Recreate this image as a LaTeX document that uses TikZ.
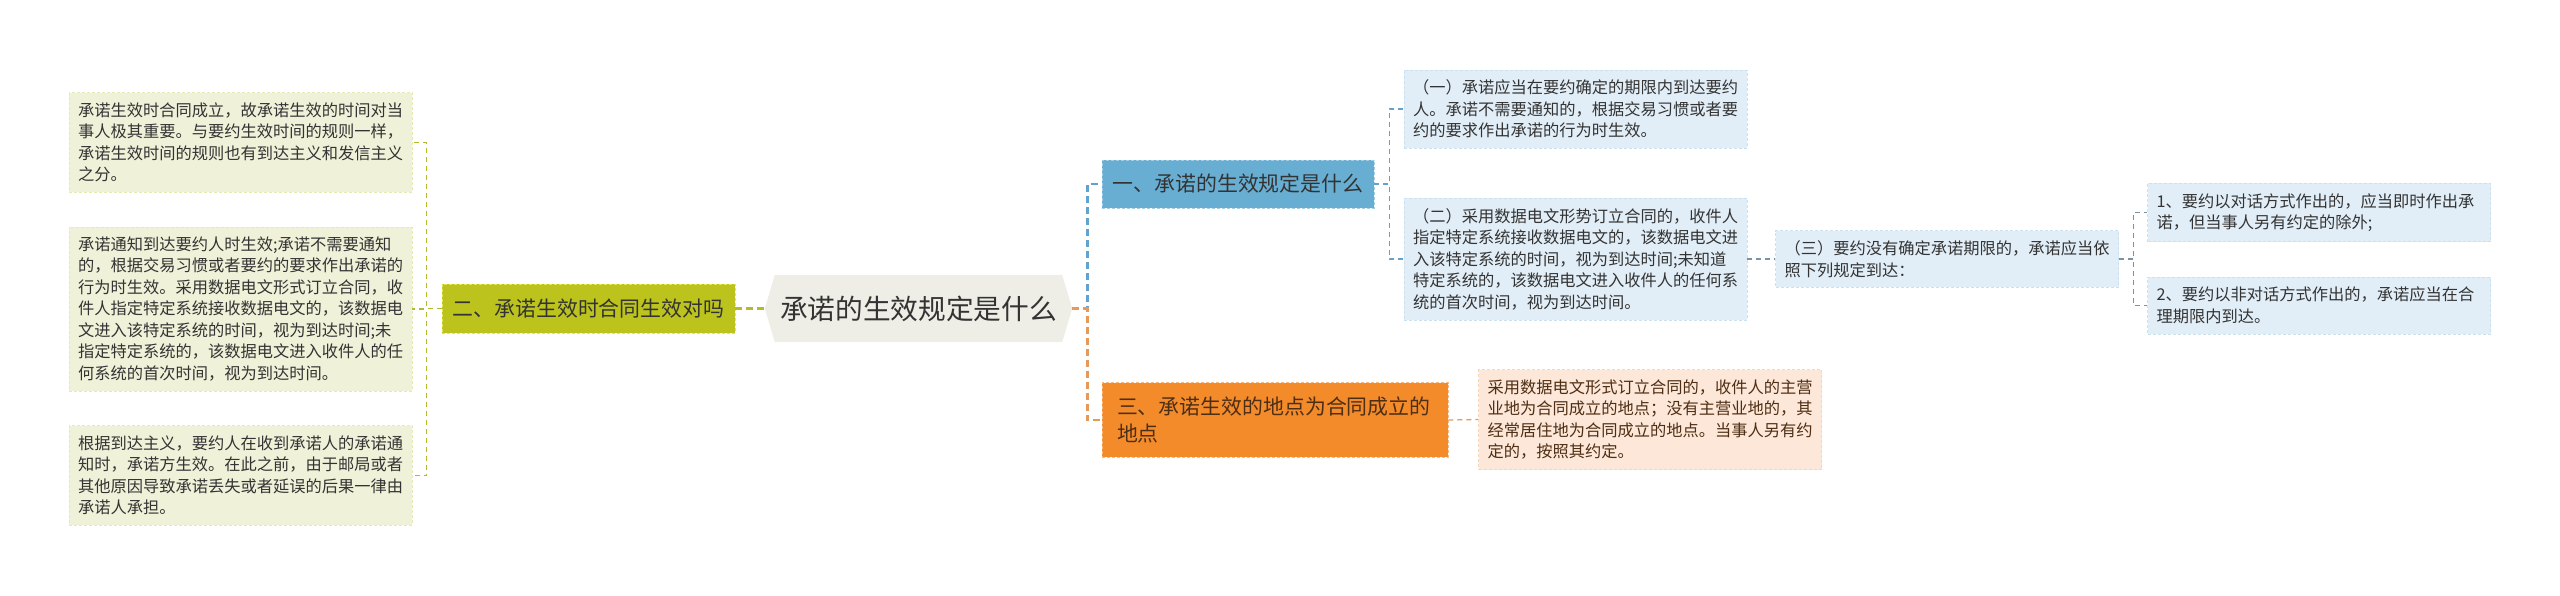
\documentclass[tikz,border=0pt]{standalone}
\usepackage{fontspec}
\setmainfont{Noto Sans CJK SC}
\usepackage{tikz}
\usetikzlibrary{backgrounds}
\definecolor{rootbg}{HTML}{EEEEE6}
\definecolor{grnmain}{HTML}{BCC31C}
\definecolor{grnleaf}{HTML}{EFF2D8}
\definecolor{grnline}{HTML}{B3BA2C}
\definecolor{blumain}{HTML}{68AED3}
\definecolor{bluleaf}{HTML}{E2EEF7}
\definecolor{bluline}{HTML}{62A2CE}
\definecolor{bluetwig}{HTML}{7893A8}
\definecolor{ormain}{HTML}{F38B2B}
\definecolor{orleaf}{HTML}{FCE7D8}
\definecolor{orline}{HTML}{E39A5A}
\definecolor{txtdark}{HTML}{333333}
\definecolor{txtbrown}{HTML}{4E2E14}
\tikzset{
  rootbox/.style={rectangle, inner sep=0pt, minimum width=287pt,
    minimum height=67pt, font=\fontsize{27.7}{30}\selectfont, text=txtdark},
  mainbox/.style={rectangle, inner sep=0pt, draw, line width=0.8pt,
    dash pattern=on 3pt off 2pt, font=\fontsize{20.9}{27.5}\selectfont},
  leaf/.style={rectangle, text width=325pt, inner xsep=9pt, inner ysep=10pt,
    align=left, draw, line width=0.6pt, dash pattern=on 3pt off 2pt,
    font=\fontsize{16.25}{21.5}\selectfont},
  trunk/.style={line width=2.6pt, dash pattern=on 7pt off 4pt},
  twig/.style={line width=1.3pt, dash pattern=on 5pt off 4pt}
}

\begin{document}
\begin{tikzpicture}[x=1pt, y=-1pt]
  \useasboundingbox (0,0) rectangle (2560,595);
  \node[rootbox] (root) at (918.5,308.5) {承诺的生效规定是什么};
  \coordinate (rootL) at ([xshift=-10pt]root.west);
  \coordinate (rootR) at ([xshift=10pt]root.east);
  \begin{scope}[on background layer]
    \fill[rootbg] (root.north west) -- (root.north east) -- (rootR)
      -- (root.south east) -- (root.south west) -- (rootL) -- cycle;
  \end{scope}
  % main branches
  \node[mainbox, fill=grnmain, draw=grnmain!60!yellow!70!white, text=txtdark,
    minimum width=293pt, minimum height=49pt] (n2) at (588.5,308.5)
    {二、承诺生效时合同生效对吗};
  \node[mainbox, fill=blumain, draw=blumain!60!white, text=txtdark,
    minimum width=272pt, minimum height=48pt] (n1) at (1238,184)
    {一、承诺的生效规定是什么};
  \node[mainbox, fill=ormain, draw=ormain!60!white, text=txtbrown,
    text width=316pt, inner xsep=15pt, inner ysep=14pt, align=left] (n3)
    at (1275,420) {三、承诺生效的地点为合同成立的\\地点};
  % left leaves
  \node[leaf, fill=grnleaf, draw=grnleaf!80!grnmain, text=txtdark] (la)
    at (240.5,142.5) {承诺生效时合同成立，故承诺生效的时间对当\\
    事人极其重要。与要约生效时间的规则一样，\\
    承诺生效时间的规则也有到达主义和发信主义\\
    之分。};
  \node[leaf, fill=grnleaf, draw=grnleaf!80!grnmain, text=txtdark] (lb)
    at (240.5,309) {承诺通知到达要约人时生效;承诺不需要通知\\
    的，根据交易习惯或者要约的要求作出承诺的\\
    行为时生效。采用数据电文形式订立合同，收\\
    件人指定特定系统接收数据电文的，该数据电\\
    文进入该特定系统的时间，视为到达时间;未\\
    指定特定系统的，该数据电文进入收件人的任\\
    何系统的首次时间，视为到达时间。};
  \node[leaf, fill=grnleaf, draw=grnleaf!80!grnmain, text=txtdark] (lc)
    at (240.5,475.5) {根据到达主义，要约人在收到承诺人的承诺通\\
    知时，承诺方生效。在此之前，由于邮局或者\\
    其他原因导致承诺丢失或者延误的后果一律由\\
    承诺人承担。};
  % right leaves
  \node[leaf, fill=bluleaf, draw=bluleaf!80!blumain, text=txtdark] (b1)
    at (1575.5,109) {（一）承诺应当在要约确定的期限内到达要约\\
    人。承诺不需要通知的，根据交易习惯或者要\\
    约的要求作出承诺的行为时生效。};
  \node[leaf, fill=bluleaf, draw=bluleaf!80!blumain, text=txtdark] (b2)
    at (1575.5,259) {（二）采用数据电文形势订立合同的，收件人\\
    指定特定系统接收数据电文的，该数据电文进\\
    入该特定系统的时间，视为到达时间;未知道\\
    特定系统的，该数据电文进入收件人的任何系\\
    统的首次时间，视为到达时间。};
  \node[leaf, fill=bluleaf, draw=bluleaf!80!blumain, text=txtdark] (b3)
    at (1947,259) {（三）要约没有确定承诺期限的，承诺应当依\\
    照下列规定到达：};
  \node[leaf, fill=bluleaf, draw=bluleaf!80!blumain, text=txtdark] (b4)
    at (2319,212.5) {1、要约以对话方式作出的，应当即时作出承\\
    诺，但当事人另有约定的除外;};
  \node[leaf, fill=bluleaf, draw=bluleaf!80!blumain, text=txtdark] (b5)
    at (2319,305.5) {2、要约以非对话方式作出的，承诺应当在合\\
    理期限内到达。};
  \node[leaf, fill=orleaf, draw=orleaf!80!ormain, text=txtbrown] (o1)
    at (1650,419.5) {采用数据电文形式订立合同的，收件人的主营\\
    业地为合同成立的地点；没有主营业地的，其\\
    经常居住地为合同成立的地点。当事人另有约\\
    定的，按照其约定。};
  % connectors
  \draw[trunk, grnline] (n2.east) -- (rootL);
  \draw[trunk, bluline] (rootR) -- ++(15,0) |- (n1.west);
  \draw[trunk, orline] (rootR) -- ++(15,0) |- (n3.west);
  \foreach \leafname in {la, lb, lc}
    \draw[twig, grnline] (n2.west) -- ++(-15,0) |- (\leafname.east);
  \foreach \leafname in {b1, b2}
    \draw[twig, bluline] (n1.east) -- ++(15,0) |- (\leafname.west);
  \draw[twig, bluetwig] (b2.east) -- (b3.west);
  \foreach \leafname in {b4, b5}
    \draw[twig, bluetwig] (b3.east) -- ++(15,0) |- (\leafname.west);
  \draw[twig, orline] (n3.east) -- (o1.west);
\end{tikzpicture}
\end{document}
